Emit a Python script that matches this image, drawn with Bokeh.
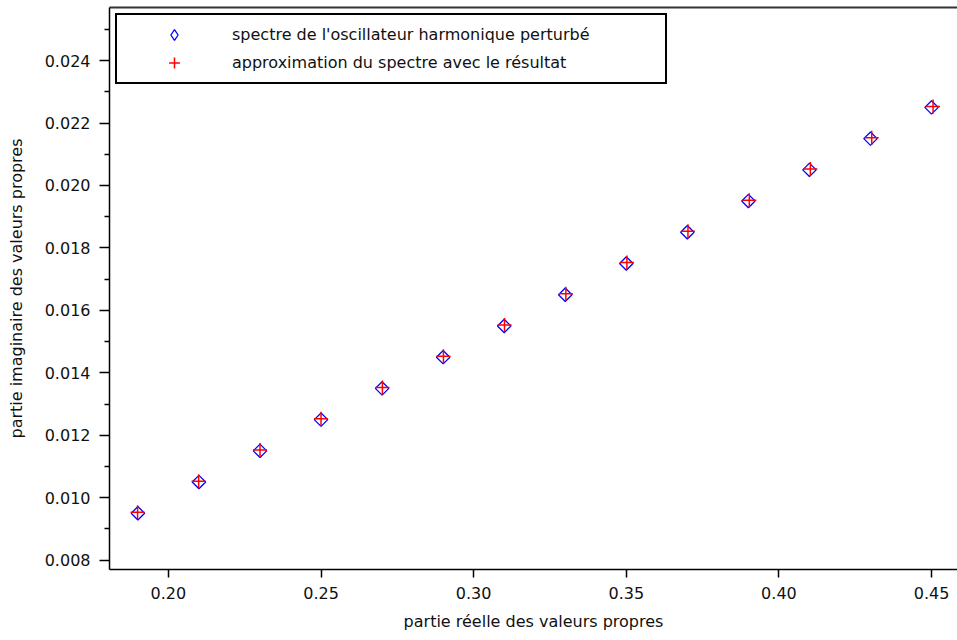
import math
from bokeh.plotting import figure
from bokeh.models import (ColumnDataSource, Legend, LegendItem, LinearAxis,
                          FixedTicker, Range1d)
from bokeh.embed import file_html
from bokeh.resources import INLINE

# Data: eigenvalues of the perturbed harmonic oscillator (real, imaginary)
spec_re = [0.19, 0.21, 0.23, 0.25, 0.27, 0.29, 0.31, 0.33, 0.35, 0.37, 0.39, 0.41, 0.43, 0.45]
spec_im = [0.0095, 0.0105, 0.0115, 0.0125, 0.0135, 0.0145, 0.0155, 0.0165, 0.0175, 0.0185,
           0.0195, 0.0205, 0.0215, 0.0225]
# Approximation of the spectrum
approx_re = [0.1899, 0.2099, 0.2300, 0.2500, 0.2701, 0.2901, 0.3101, 0.3302, 0.3502, 0.3702,
             0.3903, 0.4103, 0.4304, 0.4505]
approx_im = [0.00953, 0.01053, 0.01153, 0.01253, 0.01353, 0.01453, 0.01553, 0.01653, 0.01753,
             0.01853, 0.01953, 0.02053, 0.02153, 0.02253]

x_ticks = [0.20, 0.25, 0.30, 0.35, 0.40, 0.45]
y_ticks = [0.008, 0.010, 0.012, 0.014, 0.016, 0.018, 0.020, 0.022, 0.024]
y_minor = [0.009, 0.011, 0.013, 0.015, 0.017, 0.019, 0.021, 0.023, 0.025]

FONT = "DejaVu Sans"
FS = "16px"

p = figure(width=957, height=636, output_backend="svg", toolbar_location=None,
           x_range=Range1d(0.1807, 0.4585), y_range=Range1d(0.0077, 0.0257),
           x_axis_type=None, y_axis_type=None,
           min_border_left=109, min_border_right=0, min_border_top=7, min_border_bottom=67)
p.outline_line_color = None
p.grid.visible = False
p.background_fill_color = "white"
p.border_fill_color = "white"
p.extra_x_ranges = {"legend_only": Range1d(10, 11)}

xaxis = LinearAxis(ticker=FixedTicker(ticks=x_ticks),
                   axis_label="partie réelle des valeurs propres")
yaxis = LinearAxis(ticker=FixedTicker(ticks=y_ticks, minor_ticks=y_minor),
                   axis_label="partie imaginaire des valeurs propres")
p.add_layout(xaxis, "below")
p.add_layout(yaxis, "left")

for ax in (xaxis, yaxis):
    ax.axis_line_color = "black"
    ax.axis_line_width = 1.5
    ax.major_tick_line_color = "black"
    ax.major_tick_line_width = 1.5
    ax.minor_tick_line_color = "black"
    ax.minor_tick_line_width = 1.5
    ax.major_tick_in = 0
    ax.minor_tick_in = 0
    ax.major_label_text_font = FONT
    ax.major_label_text_font_size = FS
    ax.major_label_text_color = "#111111"
    ax.axis_label_text_font = FONT
    ax.axis_label_text_font_size = FS
    ax.axis_label_text_font_style = "normal"
    ax.axis_label_text_color = "#111111"

xaxis.major_tick_out = 8
xaxis.minor_tick_line_color = None
xaxis.major_label_standoff = 9
xaxis.axis_label_standoff = 10
xaxis.major_label_overrides = {v: f"{v:.2f}" for v in x_ticks}

yaxis.major_tick_out = 10
yaxis.minor_tick_out = 5
yaxis.major_label_standoff = 9
yaxis.axis_label_standoff = 16
yaxis.major_label_overrides = {v: f"{v:.3f}" for v in y_ticks}

# Top border as an empty axis
top_axis = LinearAxis(ticker=FixedTicker(ticks=[]), axis_line_color="#333333", axis_line_width=2,
                      major_tick_out=0, major_tick_in=0, minor_tick_out=0, minor_tick_in=0,
                      major_label_standoff=0, major_label_text_font_size="0px")
p.add_layout(top_axis, "above")

src_spec = ColumnDataSource(dict(x=spec_re, y=spec_im))
src_appr = ColumnDataSource(dict(x=approx_re, y=approx_im))

r_spec = p.scatter("x", "y", source=src_spec, marker="square", angle=math.pi / 4, size=9.5,
                   fill_color=None, line_color="#0000ff", line_width=1.3)
r_appr = p.scatter("x", "y", source=src_appr, marker="cross", size=14,
                   line_color="#ff0000", line_width=1.5)

# legend-only glyph (diamond shape), mapped to a range that keeps it out of the frame
r_leg = p.scatter("x", "y", source=src_spec, x_range_name="legend_only", marker="diamond",
                  size=9.5, fill_color=None, line_color="#0000ff", line_width=1.3)

legend = Legend(items=[LegendItem(label="spectre de l'oscillateur harmonique perturbé", renderers=[r_leg]),
                       LegendItem(label="approximation du spectre avec le résultat", renderers=[r_appr])],
                location="top_left", margin=6, padding=6, spacing=1,
                glyph_width=102, glyph_height=27, label_standoff=7, label_width=427,
                label_text_font=FONT, label_text_font_size=FS, label_text_color="#111111",
                border_line_color="black", border_line_width=2, border_line_alpha=1.0,
                background_fill_color="white", background_fill_alpha=1.0)
p.add_layout(legend, "center")

open("out.html", "w").write(file_html(p, INLINE))
